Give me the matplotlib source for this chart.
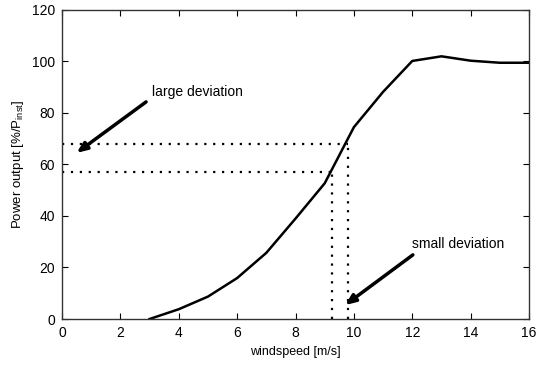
import matplotlib.pyplot as plt

plt.rcParams["font.family"] = ["Liberation Sans", "DejaVu Sans"]
plt.rcParams["mathtext.default"] = "regular"

windspeed = [3, 4, 5, 6, 7, 8, 9, 10, 11, 12, 13, 14, 15, 16]
power = [0, 3.8, 8.7, 15.9, 25.7, 39.0, 52.7, 74.5, 88.2, 100.2, 102.0, 100.3, 99.5, 99.5]

# deviation markers
x_small, y_small = 9.25, 57
x_large, y_large = 9.8, 68

fig = plt.figure(figsize=(5.36, 3.69), dpi=100)
ax = fig.add_axes([0.1157, 0.1355, 0.8713, 0.8375])

ax.plot(windspeed, power, color="black", linewidth=1.8)

ax.plot([0, x_large], [y_large, y_large], color="black", linestyle=(0, (1, 3)), linewidth=1.6)
ax.plot([0, x_small], [y_small, y_small], color="black", linestyle=(0, (1, 3)), linewidth=1.6)
ax.plot([x_small, x_small], [0, y_small], color="black", linestyle=(0, (1, 3)), linewidth=1.6)
ax.plot([x_large, x_large], [0, y_large], color="black", linestyle=(0, (1, 3)), linewidth=1.6)

arrow = dict(arrowstyle="-|>,head_length=0.6,head_width=0.25", color="black", linewidth=2.5, shrinkA=0, shrinkB=0)
ax.annotate("", xy=(0.5, 64.5), xytext=(2.88, 84.3), arrowprops=arrow)
ax.annotate("", xy=(9.7, 5.4), xytext=(12.02, 24.9), arrowprops=arrow)
ax.text(3.1, 85.3, "large deviation", fontsize=10, va="bottom")
ax.text(12.0, 26.5, "small deviation", fontsize=10, va="bottom")

ax.set_xlim(0, 16)
ax.set_ylim(0, 120)
ax.set_xticks(range(0, 17, 2))
ax.set_yticks(range(0, 121, 20))
ax.tick_params(direction="in", top=True, right=True, labelsize=10, length=4, pad=5)
ax.set_xlabel("windspeed [m/s]", fontsize=9)
ax.set_ylabel("Power output [%/P$_{inst}$]", fontsize=9.5)
for s in ax.spines.values():
    s.set_linewidth(1.0)
    s.set_color("#333333")

fig.savefig("out.png", dpi=100)
